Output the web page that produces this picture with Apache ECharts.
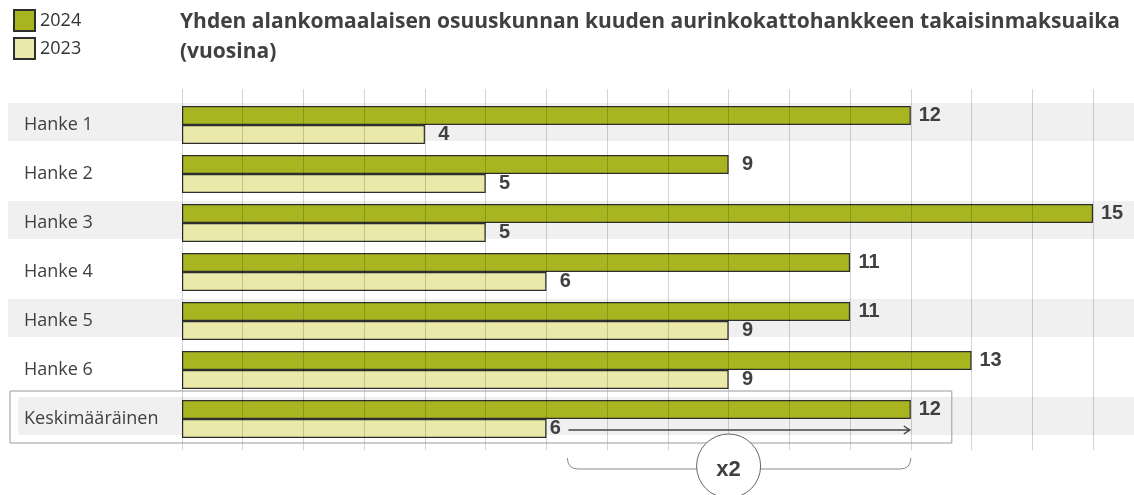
<!DOCTYPE html>
<html>
<head>
<meta charset="utf-8">
<script src="https://cdn.jsdelivr.net/npm/echarts@6/dist/echarts.min.js"></script>
<style>
  html, body { margin: 0; padding: 0; background: #fff; }
  #chart { width: 1134px; height: 495px; }
</style>
</head>
<body>
<div id="chart"></div>
<script>
// payback time per project, years
const categories = ['Hanke 1', 'Hanke 2', 'Hanke 3', 'Hanke 4', 'Hanke 5', 'Hanke 6', 'Keskimääräinen'];
const years2024 = [12, 9, 15, 11, 11, 13, 12];
const years2023 = [4, 5, 5, 6, 9, 9, 6];
const seriesNames = ['2024', '2023'];
const avgIndex = categories.length - 1;
const multiplierText = 'x2';

const C = {
  dark: '#a8b420',
  light: '#ebe9aa',
  border: '#2e2e2e',
  stripe: '#f0f0f0',
  text: '#404040',
  grid: 'rgba(0,0,0,0.17)',
  sans: '"Open Sans","Noto Sans",sans-serif',
  num: '"Liberation Sans",Arial,sans-serif'
};

const stripeRows = categories.map((c, i) => i).filter(i => i % 2 === 0);

function valueLabel(dist) {
  return {
    show: true, position: 'right', distance: dist, align: 'center',
    color: C.text, fontFamily: C.num, fontWeight: 'bold', fontSize: 20
  };
}

const chart = echarts.init(document.getElementById('chart'), null, { renderer: 'canvas' });

chart.setOption({
  backgroundColor: '#fff',
  animation: false,
  title: {
    text: 'Yhden alankomaalaisen osuuskunnan kuuden aurinkokattohankkeen takaisinmaksuaika\n(vuosina)',
    left: 175, top: 2,
    textStyle: { color: C.text, fontFamily: C.sans, fontWeight: 'bold', fontSize: 21, lineHeight: 30 }
  },
  legend: {
    data: seriesNames,
    orient: 'vertical', left: 8, top: 4,
    itemWidth: 21, itemHeight: 21, itemGap: 5,
    icon: 'rect',
    textStyle: { color: '#333', fontFamily: C.sans, fontSize: 18 }
  },
  grid: [
    { left: 182, right: 41, top: 100.5, bottom: 51.5 },
    { left: 182, right: 41, top: 89, bottom: 45 }
  ],
  xAxis: [
    { type: 'value', gridIndex: 0, min: 0, max: 15, interval: 1, show: false },
    { type: 'value', gridIndex: 1, min: 0, max: 15, interval: 1, z: 10,
      axisLine: { show: false }, axisTick: { show: false }, axisLabel: { show: false },
      splitLine: { show: true, lineStyle: { color: C.grid, width: 1 } } }
  ],
  yAxis: [
    { type: 'category', gridIndex: 0, data: categories, inverse: true, z: 5,
      axisLine: { show: false }, axisTick: { show: false },
      axisLabel: { align: 'left', margin: 158, color: C.text, fontFamily: C.sans, fontSize: 18 } },
    { type: 'value', gridIndex: 1, show: false, min: 0, max: 1 }
  ],
  series: [
    {
      type: 'custom', name: 'stripes', z: 1, silent: true, clip: false,
      xAxisIndex: 0, yAxisIndex: 0,
      data: stripeRows.map(i => [0, i]),
      renderItem: (params, api) => {
        const c = api.coord([0, api.value(1)]);
        const left = api.value(1) === avgIndex ? 18 : 8;
        return { type: 'rect', shape: { x: left, y: c[1] - 22, width: api.getWidth() - left, height: 38 },
          style: { fill: C.stripe } };
      }
    },
    {
      name: seriesNames[0], type: 'bar', barWidth: 19, barGap: '0%', z: 3,
      itemStyle: { color: C.dark, borderColor: C.border, borderWidth: 1.2 },
      label: valueLabel(19),
      data: years2024
    },
    {
      name: seriesNames[1], type: 'bar', barWidth: 19, barGap: '0%', z: 3,
      itemStyle: { color: C.light, borderColor: C.border, borderWidth: 1.2 },
      label: valueLabel(19),
      data: years2023.map((v, i) => i === avgIndex ? { value: v, label: { distance: 9 } } : v)
    },
    {
      type: 'custom', name: 'avgNote', z: 20, silent: true, clip: false,
      xAxisIndex: 0, yAxisIndex: 0,
      data: [[years2023[avgIndex], years2024[avgIndex], avgIndex]],
      renderItem: (params, api) => {
        const lo = api.value(0), hi = api.value(1), row = api.value(2);
        const p0 = api.coord([lo, row]);
        const p1 = api.coord([hi, row]);
        const pm = api.coord([(lo + hi) / 2, row]);
        const y = p0[1];
        const x0 = p0[0], x1 = p1[0];
        const ay = y + 11, by = y + 50;
        return {
          type: 'group',
          children: [
            { type: 'rect', shape: { x: 10, y: y - 28, width: x1 + 41 - 10, height: 52 },
              style: { fill: 'none', stroke: '#9a9a9a', lineWidth: 1 } },
            { type: 'line', shape: { x1: x0 + 22, y1: ay, x2: x1 - 1, y2: ay },
              style: { stroke: '#444', lineWidth: 1.5 } },
            { type: 'polyline', shape: { points: [[x1 - 7, ay - 4], [x1 - 1, ay], [x1 - 7, ay + 4]] },
              style: { stroke: '#444', lineWidth: 1.5, fill: 'none' } },
            { type: 'path', shape: { pathData:
                'M' + (x0 + 21) + ' ' + (by - 11) + ' Q' + (x0 + 21) + ' ' + by + ' ' + (x0 + 32) + ' ' + by +
                ' L' + (x1 - 11) + ' ' + by + ' Q' + x1 + ' ' + by + ' ' + x1 + ' ' + (by - 11) },
              style: { stroke: '#8a8a8a', lineWidth: 1, fill: 'none' } },
            { type: 'circle', shape: { cx: pm[0], cy: y + 47, r: 32 },
              style: { fill: '#fff', stroke: '#666', lineWidth: 1 } },
            { type: 'text', x: pm[0], y: y + 51,
              style: { text: multiplierText, fill: C.text, font: 'bold 22px "Liberation Sans", Arial, sans-serif',
                align: 'center', verticalAlign: 'middle' } }
          ]
        };
      }
    }
  ]
});
</script>
</body>
</html>
